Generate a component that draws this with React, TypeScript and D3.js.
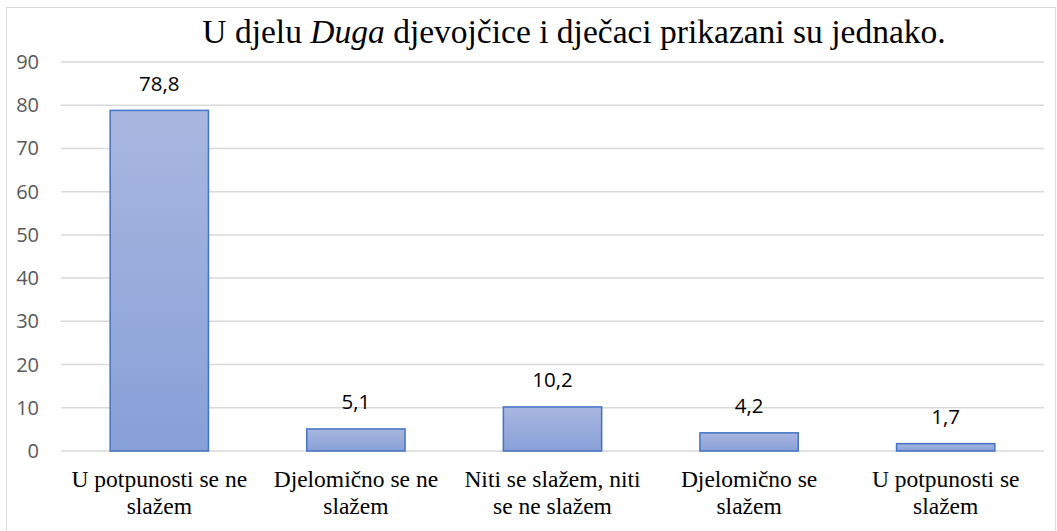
import React from 'react';
import * as d3 from 'd3';

const categories: string[][] = [
  ['U potpunosti se ne', 'slažem'],
  ['Djelomično se ne', 'slažem'],
  ['Niti se slažem, niti', 'se ne slažem'],
  ['Djelomično se', 'slažem'],
  ['U potpunosti se', 'slažem'],
];
const values: number[] = [78.8, 5.1, 10.2, 4.2, 1.7];
const yTicks: number[] = [0, 10, 20, 30, 40, 50, 60, 70, 80, 90];

const W = 1057;
const H = 531;
const plot = { left: 61, right: 1044, top: 62, bottom: 451 };
const serif = 'Liberation Serif, Times New Roman, serif';
const sans = 'Open Sans, sans-serif';

const App: React.FC = () => {
  const x = d3.scaleBand<number>()
    .domain(d3.range(values.length))
    .range([plot.left, plot.right])
    .paddingInner(0.5)
    .paddingOuter(0.25);
  const y = d3.scaleLinear().domain([0, 90]).range([plot.bottom, plot.top]);
  const fmt = (v: number) => d3.format('.1f')(v).replace('.', ',');

  return (
    <svg width={W} height={H} style={{ position: 'absolute', left: 0, top: 0 }}>
      <defs>
        <linearGradient id="barFill" x1="0" y1="0" x2="0" y2="1">
          <stop offset="0" stopColor="#a9b7df" />
          <stop offset="1" stopColor="#88a0d8" />
        </linearGradient>
      </defs>
      <rect x={0} y={0} width={W} height={H} fill="#fff" />
      <rect x={6.5} y={7.5} width={1049} height={530} fill="none" stroke="#d9d9d9" />
      <text x={574} y={43} textAnchor="middle" fontFamily={serif} fontSize={33.5} fill="#000">
        U djelu <tspan fontStyle="italic">Duga</tspan> djevojčice i dječaci prikazani su jednako.
      </text>
      {yTicks.map(t => (
        <g key={t}>
          <line x1={plot.left} x2={plot.right} y1={y(t)} y2={y(t)} stroke="#d9d9d9" strokeWidth={1.5} />
          <text x={39} y={y(t) + 7} textAnchor="end" fontFamily={sans} fontSize={20} fill="#595959">{t}</text>
        </g>
      ))}
      {values.map((v, i) => (
        <g key={i}>
          <rect x={x(i)} y={y(v)} width={x.bandwidth()} height={y(0) - y(v)} fill="url(#barFill)" stroke="#4472c4" strokeWidth={1.5} />
          <text x={(x(i) ?? 0) + x.bandwidth() / 2} y={y(v) - 19.5} textAnchor="middle" fontFamily={sans} fontSize={20.5} fill="#000">{fmt(v)}</text>
          {categories[i].map((line, j) => (
            <text key={j} x={(x(i) ?? 0) + x.bandwidth() / 2} y={487 + j * 27} textAnchor="middle" fontFamily={serif} fontSize={23.5} fill="#000">{line}</text>
          ))}
        </g>
      ))}
    </svg>
  );
};

export default App;
